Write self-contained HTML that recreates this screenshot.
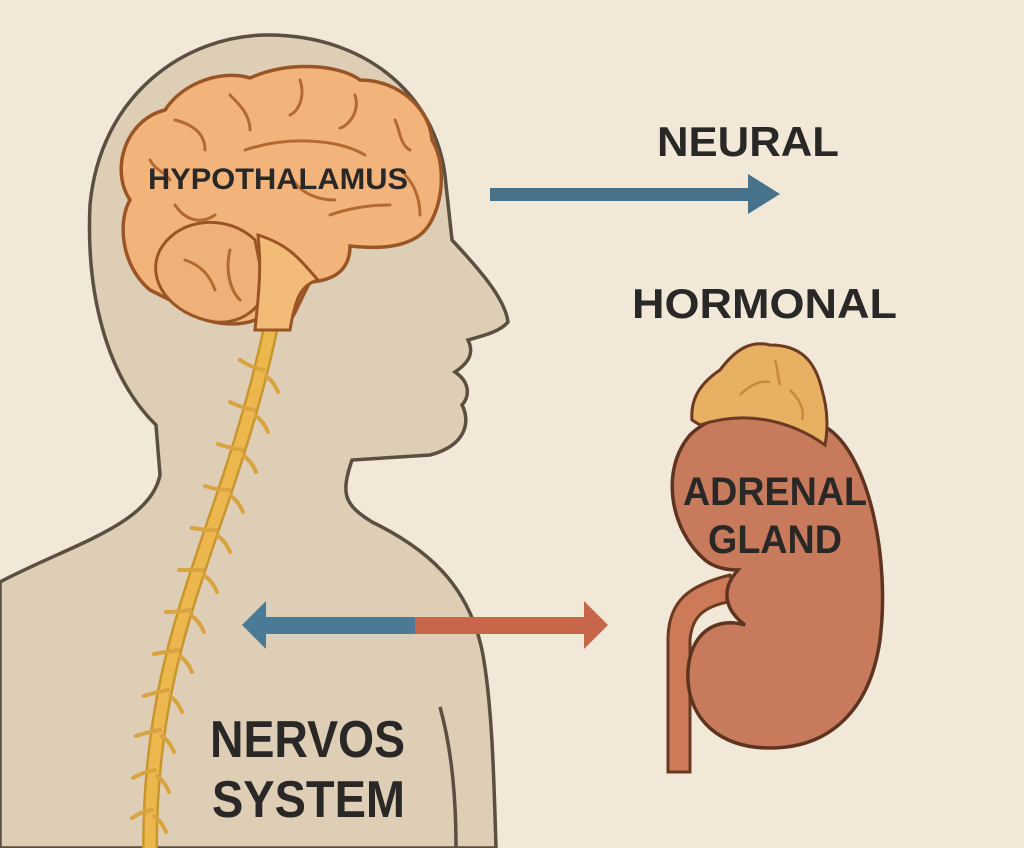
<!DOCTYPE html>
<html><head><style>html,body{margin:0;padding:0;background:#f1e8d8;}svg{display:block}
text{font-family:"Liberation Sans Narrow","Liberation Sans",sans-serif;font-weight:bold;fill:#2a2826;}</style></head>
<body>
<svg width="1024" height="848" viewBox="0 0 1024 848" xmlns="http://www.w3.org/2000/svg">
<rect width="1024" height="848" fill="#f1e8d8"/>
<path d="M0,582 C70,545 150,525 160,475 L156,425 C105,375 86,290 90,205 C100,95 185,35 268,35 C370,35 440,100 446,185 L452,240 C478,268 505,298 508,322 C500,332 482,336 468,340 C474,352 470,362 455,372 C470,382 470,396 462,405 C470,420 468,445 430,455 L352,460 C340,495 345,505 372,522 C440,555 470,595 482,650 C492,700 494,780 496,848 L0,848 Z" fill="#ddceb5" stroke="#5a4f40" stroke-width="3.5"/>
<path d="M440,707 C452,750 456,800 456,848" fill="none" stroke="#5a4f40" stroke-width="3.5"/>
<path d="M285,240 C275,330 250,420 215,520 C185,610 150,700 150,848" fill="none" stroke="#c9962e" stroke-width="16"/>
<path d="M285,240 C275,330 250,420 215,520 C185,610 150,700 150,848" fill="none" stroke="#ecb84e" stroke-width="11"/>
<g stroke="#d9a440" stroke-width="4" fill="none" stroke-linecap="round">
<path d="M264,370 q-12,-2 -24,-10 M266,376 q8,6 12,16 M254,410 q-12,-2 -24,-8 M256,416 q8,6 12,16 M242,450 q-12,-2 -24,-6 M244,456 q8,6 12,16 M229,490 q-12,0 -24,-4 M231,496 q8,6 12,16 M216,530 q-12,0 -24,-2 M218,536 q8,6 12,16 M203,570 q-12,0 -24,0 M205,576 q8,6 12,16 M190,610 q-12,2 -24,2 M192,616 q8,6 12,16 M178,650 q-12,2 -24,4 M180,656 q8,6 12,16 M168,690 q-12,2 -24,6 M170,696 q8,6 12,16 M160,730 q-12,2 -24,6 M162,736 q8,6 12,16 M155,770 q-12,2 -22,8 M157,776 q8,6 12,16 M152,810 q-12,2 -20,8 M154,816 q8,6 12,16"/>
</g>
<path d="M150,290 C120,265 118,220 130,200 C110,170 125,120 165,110 C185,80 225,70 250,78 C290,60 340,65 360,80 C400,80 430,110 432,140 C450,170 440,220 420,235 C400,250 370,248 350,246 C350,265 340,280 310,282 C300,300 295,315 290,320 L255,320 C230,330 190,320 170,300 Z" fill="#f3b47c" stroke="#9a5524" stroke-width="3.5"/>
<path d="M255,240 C230,215 180,215 160,250 C145,280 170,315 215,322 C240,324 260,310 265,290 Z" fill="#f0b07a" stroke="#9a5524" stroke-width="3"/>
<path d="M258,235 C262,270 258,300 255,330 L290,330 C295,300 300,285 318,280 C300,260 290,245 258,235 Z" fill="#f2bc78" stroke="#9a5524" stroke-width="3"/>
<g stroke="#b36a30" stroke-width="3" fill="none" stroke-linecap="round">
<path d="M245,150 C290,135 340,140 365,155 M175,120 C195,125 205,135 205,150 M230,95 C240,105 250,115 250,130 M300,80 C305,95 300,110 290,115 M355,95 C360,110 350,125 340,128 M395,120 C400,130 400,145 410,150 M175,205 C185,220 200,225 215,215 M330,215 C350,208 370,205 390,205 M405,175 C415,185 420,200 420,215 M150,160 C155,170 165,172 170,180 M290,175 C300,195 320,200 335,200 M185,260 C200,265 210,275 215,290 M230,250 C225,270 230,290 240,300"/>
</g>
<text x="148" y="189" font-size="30" textLength="260" lengthAdjust="spacingAndGlyphs">HYPOTHALAMUS</text>
<rect x="490" y="188" width="262" height="13" fill="#46728c"/>
<polygon points="748,174 780,194 748,214" fill="#46728c"/>
<text x="657" y="156" font-size="42" textLength="182" lengthAdjust="spacingAndGlyphs">NEURAL</text>
<text x="632" y="318" font-size="42" textLength="265" lengthAdjust="spacingAndGlyphs">HORMONAL</text>
<rect x="262" y="617" width="154" height="17" fill="#4a7a96"/>
<polygon points="242,625 266,601 266,649" fill="#4a7a96"/>
<rect x="415" y="617" width="172" height="17" fill="#c8664c"/>
<polygon points="608,625 584,601 584,649" fill="#c8664c"/>
<text x="210" y="757" font-size="52" textLength="195" lengthAdjust="spacingAndGlyphs">NERVOS</text>
<text x="212" y="817" font-size="52" textLength="193" lengthAdjust="spacingAndGlyphs">SYSTEM</text>
<path d="M668,772 L668,640 C668,600 690,585 730,575 L738,600 C705,605 692,615 690,640 L690,772 Z" fill="#cc7a58" stroke="#6b3a22" stroke-width="3"/>
<path d="M705,560 C670,530 660,470 690,435 C720,405 790,400 830,430 C870,460 890,560 880,640 C870,710 830,748 770,748 C720,748 690,720 688,680 C686,640 710,615 745,625 C725,610 720,590 738,570 C728,570 715,568 705,560 Z" fill="#c77a5c" stroke="#5e3420" stroke-width="3.5"/>
<path d="M692,420 C690,395 705,380 720,370 C735,350 750,340 770,345 C800,345 815,360 822,390 C828,410 828,430 825,445 C790,420 745,410 700,425 Z" fill="#e8b062" stroke="#6b3a22" stroke-width="3"/>
<path d="M740,395 C750,385 760,380 770,382 M775,360 C778,370 778,378 780,385 M790,390 C800,400 805,410 802,420" stroke="#c78a3a" stroke-width="2.5" fill="none"/>
<text x="683" y="505" font-size="40" textLength="184" lengthAdjust="spacingAndGlyphs">ADRENAL</text>
<text x="708" y="553" font-size="40" textLength="134" lengthAdjust="spacingAndGlyphs">GLAND</text>
</svg>
</body></html>
